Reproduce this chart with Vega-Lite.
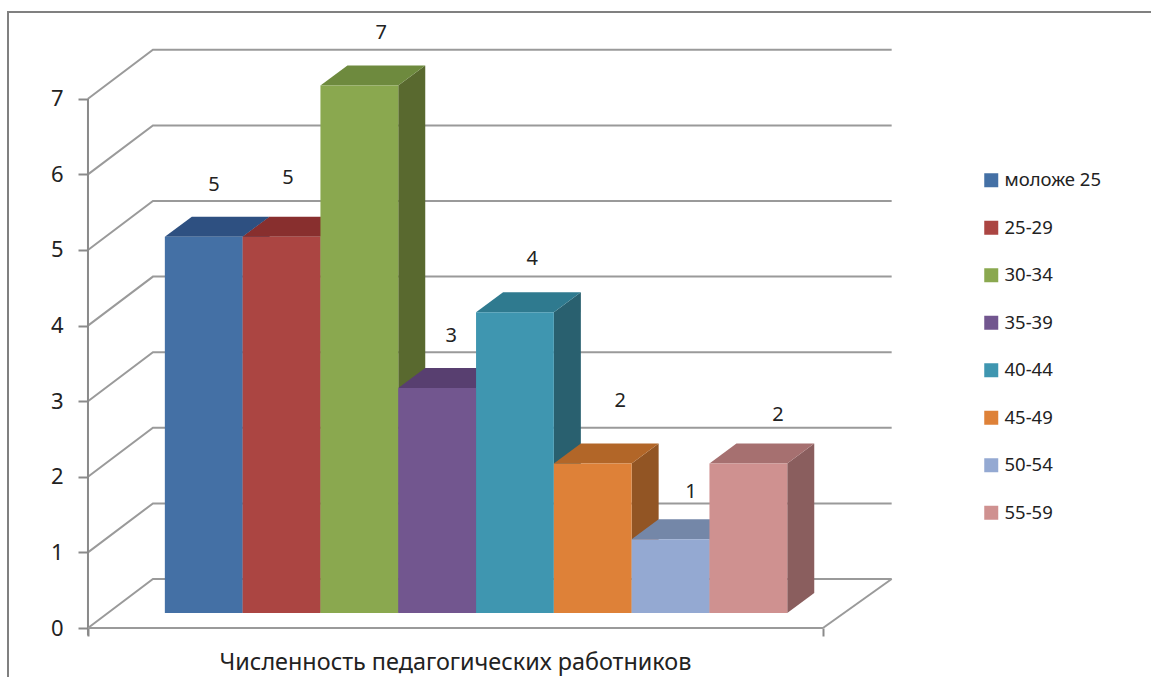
{
"$schema":"https://vega.github.io/schema/vega-lite/v6.json",
"autosize":{"type":"none"},
"padding":{"left":8,"top":12,"right":0,"bottom":0},
"width":1200,"height":700,
"background":"white",
"config":{"font":"Noto Sans","view":{"stroke":"#808080","strokeWidth":2}},
"datasets":{
"bars":[
{"group":"моложе 25","value":5},
{"group":"25-29","value":5},
{"group":"30-34","value":7},
{"group":"35-39","value":3},
{"group":"40-44","value":4},
{"group":"45-49","value":2},
{"group":"50-54","value":1},
{"group":"55-59","value":2}],
"levels":[{"level":0},{"level":1},{"level":2},{"level":3},{"level":4},{"level":5},{"level":6},{"level":7}]
},
"layer":[
{"data":{"name":"levels"},
 "transform":[{"calculate":"[0,1,2]","as":"p"},{"flatten":["p"]},
  {"calculate":"datum.p==0?0:datum.p==1?0.835:10.33","as":"gx"},
  {"calculate":"datum.level+(datum.p==0?0:0.648)","as":"gy"}],
 "mark":{"type":"line","color":"#9a9a9a","strokeWidth":2,"clip":false},
 "encoding":{
  "x":{"field":"gx","type":"quantitative","scale":{"domain":[-1.028,14.396],"nice":false,"zero":false},
   "axis":{"values":[0,9.447],"labels":false,"grid":false,"domain":false,"tickColor":"#8a8a8a","tickWidth":2,"tickSize":8,"offset":-84,
     "title":"Численность педагогических работников","titleFont":"Noto Sans","titleFontSize":23.4,"titleFontWeight":"normal","titleColor":"#222222","titleX":447,"titleY":34,"titleBaseline":"middle"}},
  "y":{"field":"gy","type":"quantitative","scale":{"domain":[-1.111,8.148],"nice":false,"zero":false},
   "axis":{"values":[0,1,2,3,4,5,6,7],"format":"d","title":null,"grid":false,"domain":false,"offset":-80,"tickColor":"#8a8a8a","tickWidth":2,"tickSize":10,"labelPadding":15,"labelFont":"Noto Sans","labelFontSize":22,"labelColor":"#222222"}},
  "detail":{"field":"level"},
  "order":{"field":"p"}}},
{"data":{"values":[{"ax":0,"a":-0.1,"b":7}]},
 "mark":{"type":"rule","color":"#8a8a8a","strokeWidth":2},
 "encoding":{"x":{"field":"ax","type":"quantitative"},"y":{"field":"a","type":"quantitative"},"y2":{"field":"b"}}},
{"data":{"values":[{"k":0},{"k":1}]},
 "transform":[{"calculate":"datum.k==0?0:9.447","as":"fx"},{"calculate":"0","as":"fy"}],
 "mark":{"type":"line","color":"#9a9a9a","strokeWidth":2},
 "encoding":{"x":{"field":"fx","type":"quantitative"},"y":{"field":"fy","type":"quantitative"}}},
{"data":{"values":[{"k":0},{"k":1}]},
 "transform":[{"calculate":"datum.k==0?9.447:10.33","as":"fx"},{"calculate":"datum.k==0?0:0.648","as":"fy"}],
 "mark":{"type":"line","color":"#9a9a9a","strokeWidth":2},
 "encoding":{"x":{"field":"fx","type":"quantitative"},"y":{"field":"fy","type":"quantitative"}}},
{"data":{"name":"bars"},
 "transform":[{"window":[{"op":"row_number","as":"n"}]},{"calculate":"[0,1]","as":"t"},{"flatten":["t"]},
  {"calculate":"datum.n+0.988+datum.t*0.347","as":"sx"},
  {"calculate":"0.198+datum.t*0.265","as":"s0"},
  {"calculate":"datum.value+0.175+datum.t*0.265","as":"s1"}],
 "mark":{"type":"area","orient":"vertical","line":false},
 "encoding":{
  "x":{"field":"sx","type":"quantitative"},
  "y":{"field":"s1","type":"quantitative"},
  "y2":{"field":"s0"},
  "detail":{"field":"group"},
  "color":{"field":"group","type":"nominal","legend":null,"sort":null,
   "scale":{"domain":["моложе 25","25-29","30-34","35-39","40-44","45-49","50-54","55-59"],"range":["#2f4f7a","#7f2f2e","#59692f","#4a3560","#29606f","#925524","#6a7a9a","#8a5e5e"]}}}},
{"data":{"name":"bars"},
 "transform":[{"window":[{"op":"row_number","as":"n"}]},{"calculate":"[0,1]","as":"t"},{"flatten":["t"]},
  {"calculate":"datum.n-0.012+datum.t*0.347","as":"tx"},
  {"calculate":"datum.n+0.988+datum.t*0.347","as":"tx2"},
  {"calculate":"datum.value+0.175+datum.t*0.265","as":"ty"}],
 "mark":{"type":"area","orient":"horizontal","line":false},
 "encoding":{
  "y":{"field":"ty","type":"quantitative"},
  "x":{"field":"tx","type":"quantitative"},
  "x2":{"field":"tx2"},
  "detail":{"field":"group"},
  "color":{"field":"group","type":"nominal","legend":null,"sort":null,
   "scale":{"domain":["моложе 25","25-29","30-34","35-39","40-44","45-49","50-54","55-59"],"range":["#2e5081","#882f2e","#6e8a3e","#583f70","#2f7a8f","#b26628","#7487a8","#a67070"]}}}},
{"data":{"name":"bars"},
 "transform":[{"window":[{"op":"row_number","as":"n"}]},
  {"calculate":"datum.n-0.012","as":"n1"},
  {"calculate":"datum.n+0.988","as":"n2"},
  {"calculate":"datum.value+0.175","as":"top"},
  {"calculate":"0.198","as":"base"}],
 "mark":{"type":"rect"},
 "encoding":{
  "x":{"field":"n1","type":"quantitative"},
  "x2":{"field":"n2"},
  "y":{"field":"top","type":"quantitative"},
  "y2":{"field":"base"},
  "color":{"field":"group","type":"nominal","sort":null,
   "scale":{"domain":["моложе 25","25-29","30-34","35-39","40-44","45-49","50-54","55-59"],"range":["#4470a5","#ab4542","#8aa84f","#72568f","#3f96b0","#de8138","#94a9d2","#cf9190"]},
   "legend":{"title":null,"orient":"none","legendX":974,"legendY":159,"symbolType":"square","symbolSize":196,"symbolStrokeWidth":0,"symbolOpacity":1,"labelFont":"Noto Sans","labelFontSize":18.5,"labelColor":"#222222","rowPadding":28.5,"labelOffset":4,"padding":0}}}},
{"data":{"name":"bars"},
 "transform":[{"window":[{"op":"row_number","as":"n"}]},
  {"calculate":"datum.n+0.5+[0.12,0.07,0.27,0.17,0.21,0.34,0.25,0.37][datum.n-1]","as":"lx"},
  {"calculate":"datum.value+0.198+[0.66,0.755,0.67,0.665,0.68,0.805,0.6,0.62][datum.n-1]","as":"ly"}],
 "mark":{"type":"text","font":"Noto Sans","fontSize":20,"color":"#222222","baseline":"middle","align":"center"},
 "encoding":{
  "x":{"field":"lx","type":"quantitative"},
  "y":{"field":"ly","type":"quantitative"},
  "text":{"field":"value","type":"quantitative"}}}
],
"resolve":{"scale":{"color":"independent"}}
}
